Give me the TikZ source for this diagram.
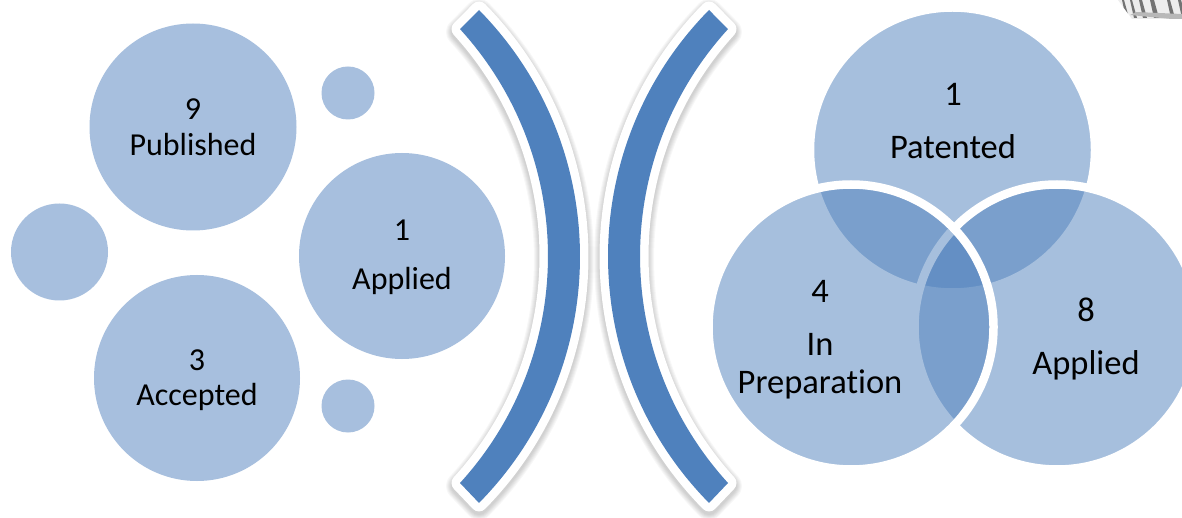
\documentclass[tikz,border=0pt]{standalone}
\usepackage{fontspec}
\setmainfont[Ligatures=NoCommon]{Carlito}
\definecolor{lightblue}{HTML}{A7BFDE}
\definecolor{midblue}{HTML}{4F81BD}
\def\bandpath{(479,507) arc[start angle=44.56,end angle=-44.56,radius=351.3] -- (460,34) arc[start angle=-42.37,end angle=42.37,radius=336.8] -- cycle}
\tikzset{
  blob/.style={circle,fill=lightblue,inner sep=0pt,outer sep=0pt},
  venn/.style={circle,fill=midblue,fill opacity=.5,draw=white,draw opacity=1,line width=8.5pt,inner sep=0pt,outer sep=0pt,minimum size=285pt},
  lbl/.style={text=black,font=\fontsize{32}{38}\selectfont,inner sep=0pt},
  lblr/.style={text=black,font=\fontsize{34.5}{41}\selectfont,inner sep=0pt},
  bandshadow/.style={draw=black,draw opacity=.03,fill=none,line join=round},
  bandbody/.style={fill=midblue,draw=white,line width=17pt,line join=round},
}
\newcommand{\band}{%
  \foreach \w in {28,26,24,22,20,18}{\draw[bandshadow,line width=\w pt,yshift=-3pt] \bandpath;}
  \draw[bandbody] \bandpath;
  \fill[midblue] \bandpath;
}
\begin{document}
\begin{tikzpicture}[x=1pt,y=1pt]
\useasboundingbox (0,0) rectangle (1182,517);
\fill[white] (0,0) rectangle (1182,517);
% corner fragment
\begin{scope}
\clip (1118,517) -- (1182,517) -- (1182,498) -- (1132,498) -- cycle;
\fill[black!7] (1110,495) rectangle (1182,517);
\foreach \x/\w in {1122/2,1130/2,1139/3,1150/4,1167/3,1178/3}{
  \fill[black!55] (\x,517) -- (\x+\w,517) -- (\x+\w+5,499) -- (\x+4,499) -- cycle;}
\fill[black!28] (1130,502) -- (1182,497) -- (1182,503) -- (1136,505) -- cycle;
\end{scope}
% bands
\band
\begin{scope}[xshift=1188pt,xscale=-1]
\band
\end{scope}
% left circles
\node[blob,minimum size=207pt] (published) at (193,390) {};
\node[blob,minimum size=53pt] (dota) at (348,424) {};
\node[blob,minimum size=97pt] (dotb) at (59.5,265) {};
\node[blob,minimum size=206pt] (appliedl) at (402,261) {};
\node[blob,minimum size=206pt] (accepted) at (197,139) {};
\node[blob,minimum size=53pt] (dotc) at (348,111) {};
% venn
\node[venn] (patented) at (952.5,367) {};
\node[venn] (appliedr) at (1057,190) {};
\node[venn] (prep) at (851,190) {};
% labels
\node[lbl] (t1) at (193,408) {9};
\node[lbl] (t2) at (193,372) {Published};
\node[lbl] (t3) at (402,287) {1};
\node[lbl] (t4) at (402,236) {Applied};
\node[lbl] (t5) at (197,157) {3};
\node[lbl] (t6) at (197,120) {Accepted};
\node[lblr] (t7) at (953,423) {1};
\node[lblr] (t8) at (953,370) {Patented};
\node[lblr] (t9) at (820,226) {4};
\node[lblr] (t10) at (820,173) {In};
\node[lblr] (t11) at (820,133) {Preparation};
\node[lblr] (t12) at (1086,207) {8};
\node[lblr] (t13) at (1086,152) {Applied};
\end{tikzpicture}
\end{document}
